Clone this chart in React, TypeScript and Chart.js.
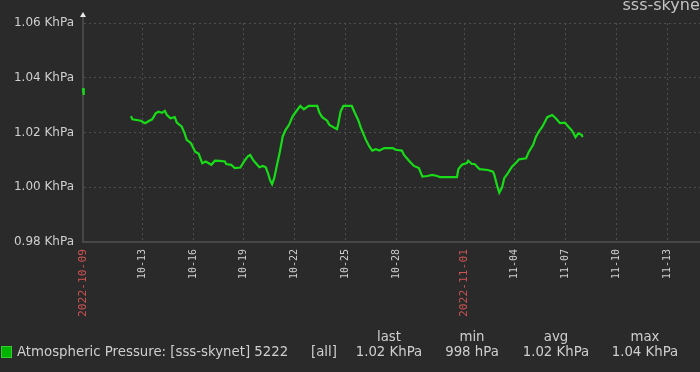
import React, { useEffect, useRef } from "react";
import { Chart, registerables } from "chart.js";
Chart.register(...registerables);

const YEAR = 2022;
const TITLE = "sss-skynet";
const SERIES_NAME = "Atmospheric Pressure: [sss-skynet] 5222";
const SERIES_SCOPE = "[all]";
const STAT_HEADERS = ["last", "min", "avg", "max"];
const STAT_VALUES = ["1.02 KhPa", "998 hPa", "1.02 KhPa", "1.04 KhPa"];

// isolated first readings ("MM-DD HH"), KhPa
const EARLY_TIMES = ["10-09 12", "10-09 13"];
const EARLY_VALUES = [1.0362, 1.0337];

// main series ("MM-DD HH"), KhPa
const TIMES = [
  "10-12 08", "10-12 10", "10-12 22", "10-13 04", "10-13 10", "10-13 14", "10-13 19", "10-13 23",
  "10-14 04", "10-14 08", "10-14 11", "10-14 16", "10-14 22", "10-15 01", "10-15 08", "10-15 12",
  "10-15 15", "10-15 21", "10-16 03", "10-16 08", "10-16 13", "10-16 18", "10-17 02", "10-17 07",
  "10-17 14", "10-17 21", "10-17 23", "10-18 06", "10-18 11", "10-18 19", "10-19 01", "10-19 06",
  "10-19 09", "10-19 13", "10-19 17", "10-19 22", "10-20 03", "10-20 07", "10-20 10", "10-20 13",
  "10-20 16", "10-20 19", "10-20 23", "10-21 03", "10-21 07", "10-21 11", "10-21 16", "10-21 21",
  "10-22 01", "10-22 08", "10-22 13", "10-22 20", "10-23 08", "10-23 11", "10-23 15", "10-23 22",
  "10-24 01", "10-24 07", "10-24 12", "10-24 14", "10-24 17", "10-24 21", "10-25 09", "10-25 13",
  "10-25 18", "10-25 22", "10-26 05", "10-26 10", "10-26 14", "10-26 19", "10-27 00", "10-27 07",
  "10-27 19", "10-27 23", "10-28 08", "10-28 11", "10-28 18", "10-29 01", "10-29 08", "10-29 13",
  "10-29 20", "10-30 03", "10-30 10", "10-30 14", "10-31 14", "10-31 16", "10-31 21", "11-01 04",
  "11-01 06", "11-01 11", "11-01 15", "11-01 22", "11-02 10", "11-02 17", "11-02 19", "11-02 23",
  "11-03 02", "11-03 06", "11-03 09", "11-03 14", "11-03 20", "11-04 02", "11-04 06", "11-04 16",
  "11-04 20", "11-05 02", "11-05 06", "11-05 10", "11-05 15", "11-05 20", "11-05 22", "11-06 05",
  "11-06 10", "11-06 16", "11-06 23", "11-07 04", "11-07 09", "11-07 14", "11-07 18", "11-07 23",
  "11-08 00",
];
const VALUES = [
  1.026, 1.0248, 1.0243, 1.0234, 1.0243, 1.0248, 1.027, 1.0276,
  1.0272, 1.0279, 1.0264, 1.0252, 1.0256, 1.0236, 1.0221, 1.0197,
  1.0173, 1.0161, 1.013, 1.0122, 1.0088, 1.0094, 1.0082, 1.0097,
  1.0096, 1.0094, 1.0085, 1.0082, 1.007, 1.0072, 1.0097, 1.0114,
  1.0118, 1.01, 1.0088, 1.0073, 1.0078, 1.0073, 1.0053, 1.0027,
  1.0011, 1.0033, 1.0082, 1.013, 1.0185, 1.0209, 1.0228, 1.0258,
  1.0273, 1.0297, 1.0285, 1.0297, 1.0297, 1.0273, 1.0256, 1.0243,
  1.0228, 1.0219, 1.0212, 1.0234, 1.0276, 1.0297, 1.0297, 1.0273,
  1.0246, 1.0216, 1.0173, 1.0148, 1.0134, 1.0139, 1.0134, 1.0143,
  1.0143, 1.0137, 1.0134, 1.0118, 1.0097, 1.0078, 1.007, 1.0039,
  1.0041, 1.0045, 1.0041, 1.0037, 1.0037, 1.0066, 1.0082, 1.0088,
  1.0097, 1.0085, 1.0085, 1.0066, 1.0063, 1.0057, 1.0045, 1.0005,
  0.998, 1.0, 1.0033, 1.0051, 1.0075, 1.009, 1.0102, 1.0106,
  1.013, 1.0155, 1.0185, 1.0203, 1.0221, 1.0246, 1.0256, 1.0264,
  1.0252, 1.0234, 1.0236, 1.0221, 1.0207, 1.0183, 1.0197, 1.0191,
  1.0183,
];

const Y_TICKS = [0.98, 1.0, 1.02, 1.04, 1.06];
const X_RANGE = ["10-09 12", "11-16 17"];
const X_TICK_TIMES = [
  "10-09 12", "10-13 00", "10-16 00", "10-19 00", "10-22 00", "10-25 00",
  "10-28 00", "11-01 00", "11-04 00", "11-07 00", "11-10 00", "11-13 00",
];
const X_TICK_LABELS = [
  "2022-10-09", "10-13", "10-16", "10-19", "10-22", "10-25",
  "10-28", "2022-11-01", "11-04", "11-07", "11-10", "11-13",
];

const parseT = (s: string) => {
  const [md, h] = s.split(" ");
  const [m, d] = md.split("-").map(Number);
  return Date.UTC(YEAR, m - 1, d, Number(h));
};

const BG = "#2a2a2a";
const TEXT = "#cfcfcf";
const RED = "#d05454";
const GRID = "#4e4e4e";
const AXIS = "#474747";
const LINE = "#18dc18";
const FONT = "'DejaVu Sans', sans-serif";

export default function App() {
  const ref = useRef<HTMLCanvasElement>(null);

  useEffect(() => {
    const canvas = ref.current!;
    const data: any[] = [
      ...EARLY_TIMES.map((t, i) => ({ x: parseT(t), y: EARLY_VALUES[i] })),
      { x: (parseT(EARLY_TIMES[EARLY_TIMES.length - 1]) + parseT(TIMES[0])) / 2, y: null },
      ...TIMES.map((t, i) => ({ x: parseT(t), y: VALUES[i] })),
    ];

    const decor = {
      id: "decor",
      beforeDraw(chart: any) {
        const c = chart.ctx;
        c.save();
        c.fillStyle = BG;
        c.fillRect(0, 0, chart.width, chart.height);
        c.restore();
      },
      afterDraw(chart: any) {
        const c = chart.ctx;
        const a = chart.chartArea;
        c.save();
        c.strokeStyle = AXIS;
        c.lineWidth = 2;
        c.beginPath();
        c.moveTo(a.left, a.top);
        c.lineTo(a.left, a.top - 6);
        c.stroke();
        c.fillStyle = "#e8e8e8";
        c.beginPath();
        c.moveTo(a.left, a.top - 11);
        c.lineTo(a.left - 3, a.top - 6);
        c.lineTo(a.left + 3, a.top - 6);
        c.closePath();
        c.fill();
        c.fillStyle = "#c4c4c4";
        c.font = "16px " + FONT;
        c.textAlign = "right";
        c.textBaseline = "alphabetic";
        c.fillText(TITLE, 706, 10);
        c.restore();
      },
    };

    const chart = new Chart(canvas, {
      type: "line",
      data: {
        datasets: [
          {
            data,
            borderColor: LINE,
            borderWidth: 2.2,
            pointRadius: 0,
            tension: 0,
            spanGaps: false,
            clip: false as any,
          },
        ],
      },
      options: {
        animation: false,
        responsive: false,
        events: [],
        layout: { padding: { top: 23, right: 10, left: 0, bottom: 0 } },
        plugins: { legend: { display: false }, tooltip: { enabled: false }, title: { display: false } },
        scales: {
          x: {
            type: "linear",
            min: parseT(X_RANGE[0]),
            max: parseT(X_RANGE[1]),
            afterBuildTicks: (s: any) => {
              s.ticks = X_TICK_TIMES.map((t) => ({ value: parseT(t) }));
            },
            afterFit: (s: any) => {
              s.height = 130;
            },
            grid: { color: GRID, lineWidth: 1, drawTicks: false },
            border: { display: true, color: AXIS, width: 2, dash: [2, 3] },
            ticks: {
              autoSkip: false,
              minRotation: 90,
              maxRotation: 90,
              padding: 7,
              callback: (_v: any, i: number) => X_TICK_LABELS[i],
              color: (ctx: any) => (X_TICK_LABELS[ctx.index] || "").startsWith(String(YEAR)) ? RED : TEXT,
              font: (ctx: any) => ({
                family: "'DejaVu Sans Mono', monospace",
                size: (X_TICK_LABELS[ctx.index] || "").startsWith(String(YEAR)) ? 11.3 : 10,
              }),
            },
          },
          y: {
            type: "linear",
            min: Y_TICKS[0],
            max: Y_TICKS[Y_TICKS.length - 1],
            afterBuildTicks: (s: any) => {
              s.ticks = Y_TICKS.map((v) => ({ value: v }));
            },
            afterFit: (s: any) => {
              s.width = 83;
            },
            grid: { color: GRID, lineWidth: 1, drawTicks: false },
            border: { display: true, color: AXIS, width: 2, dash: [2, 3] },
            ticks: {
              padding: 9,
              color: TEXT,
              font: { family: FONT, size: 12 },
              callback: (v: any) => `${Number(v).toFixed(2)} KhPa`,
            },
          },
        },
      },
      plugins: [decor],
    } as any);
    return () => chart.destroy();
  }, []);

  const legendText: React.CSSProperties = {
    position: "absolute",
    font: "13.3px 'DejaVu Sans', sans-serif",
    color: TEXT,
    whiteSpace: "nowrap",
    lineHeight: "13px",
  };
  const statCenters = [389, 472, 556, 645];

  return (
    <div style={{ position: "fixed", left: 0, top: 0, width: 700, height: 372, overflow: "hidden", background: BG }}>
      <canvas ref={ref} width={740} height={372} style={{ position: "absolute", left: 0, top: 0 }} />
      <div style={{ position: "absolute", left: 1, top: 346, width: 9, height: 10, background: "#00b400", border: "1px solid #3c3" }} />
      <span style={{ ...legendText, left: 17, top: 345 }}>{SERIES_NAME}</span>
      <span style={{ ...legendText, left: 311, top: 345 }}>{SERIES_SCOPE}</span>
      {STAT_HEADERS.map((h, i) => (
        <span key={h} style={{ ...legendText, left: statCenters[i] - 40, width: 80, textAlign: "center", top: 330 }}>{h}</span>
      ))}
      {STAT_VALUES.map((v, i) => (
        <span key={i} style={{ ...legendText, left: statCenters[i] - 40, width: 80, textAlign: "center", top: 345 }}>{v}</span>
      ))}
    </div>
  );
}
